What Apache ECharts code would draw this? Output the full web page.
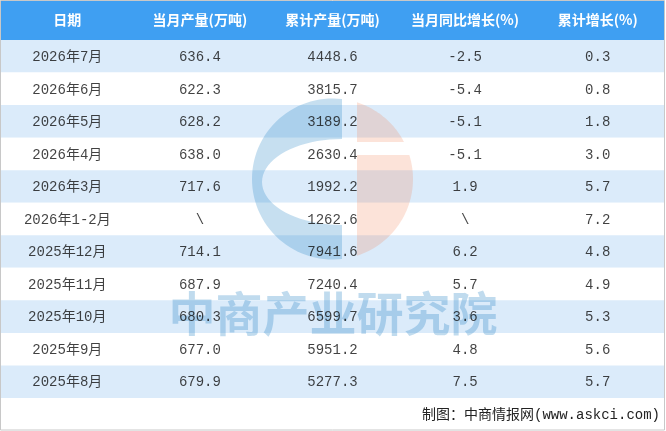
<!DOCTYPE html>
<html><head><meta charset="utf-8">
<script src="https://cdn.jsdelivr.net/npm/echarts@6/dist/echarts.min.js"></script>
<style>html,body{margin:0;padding:0;background:#fff}#c{width:666px;height:431px}</style>
</head><body><div id="c"></div>
<script>
const headers = ['日期','当月产量(万吨)','累计产量(万吨)','当月同比增长(%)','累计增长(%)'];
const months = ['2026年7月','2026年6月','2026年5月','2026年4月','2026年3月','2026年1-2月','2025年12月','2025年11月','2025年10月','2025年9月','2025年8月'];
const monthly = [636.4,622.3,628.2,638.0,717.6,null,714.1,687.9,680.3,677.0,679.9];
const cumulative = [4448.6,3815.7,3189.2,2630.4,1992.2,1262.6,7941.6,7240.4,6599.7,5951.2,5277.3];
const yoy = [-2.5,-5.4,-5.1,-5.1,1.9,null,6.2,5.7,3.6,4.8,7.5];
const cumGrowth = [0.3,0.8,1.8,3.0,5.7,7.2,4.8,4.9,5.3,5.6,5.7];

const fmt = v => (v === null ? '\\' : v.toFixed(1));
const cells = [];
months.forEach((m, i) => {
  cells.push([0, i, m]);
  cells.push([1, i, fmt(monthly[i])]);
  cells.push([2, i, fmt(cumulative[i])]);
  cells.push([3, i, fmt(yoy[i])]);
  cells.push([4, i, fmt(cumGrowth[i])]);
});

// watermark logo geometry (decoration)
const CX = 332.5, CY = 179, R = 80.5;
function arcPts(a0, a1, n, cx, cy, rx, ry) {
  const p = [];
  for (let k = 0; k <= n; k++) {
    const a = a0 + (a1 - a0) * k / n;
    p.push([cx + rx * Math.cos(a), cy + ry * Math.sin(a)]);
  }
  return p;
}
function angAtX(x, top) { const dy = Math.sqrt(R*R - (x-CX)*(x-CX)); return Math.atan2(top ? -dy : dy, x - CX); }
function angAtY(y) { const dx = Math.sqrt(R*R - (y-CY)*(y-CY)); return Math.atan2(y - CY, dx); }
const aTop = angAtX(342, true), aBot = angAtX(342, false);
const blueOuter = arcPts(aTop, aBot - 2*Math.PI, 60, CX, CY, R, R);
const blueInner = arcPts(Math.PI/2, 3*Math.PI/2, 40, 342, 182, 80, 43);
const blueShape = blueOuter.concat(blueInner);
const oTop = arcPts(angAtX(357, true), angAtY(142), 30, CX, CY, R, R).concat([[357,142]]);
const oBot = [[357,155]].concat(arcPts(angAtY(155), angAtX(357, false), 40, CX, CY, R, R));

const FONT = "'Liberation Mono','Noto Sans CJK SC',monospace";
const chart = echarts.init(document.getElementById('c'));
chart.setOption({
  animation: false,
  backgroundColor: '#fff',
  grid: {left: 1, right: 2, top: 40, bottom: 33},
  xAxis: {
    type: 'category', data: headers, position: 'top', z: 10,
    axisLine: {show: false}, axisTick: {show: false}, splitLine: {show: false},
    axisLabel: {color: '#fff', fontWeight: 'bold', fontSize: 14, margin: 13,
      fontFamily: "'Noto Sans CJK SC',sans-serif", interval: 0}
  },
  yAxis: {
    type: 'category', data: months, inverse: true,
    axisLine: {show: false}, axisTick: {show: false}, axisLabel: {show: false},
    splitLine: {show: false},
    splitArea: {show: true, areaStyle: {color: ['#DBEBFA', '#FFFFFF']}}
  },
  graphic: [
    {type: 'rect', z: 1, shape: {x: 1, y: 1, width: 663, height: 39}, style: {fill: '#3F9FF2'}},
    {type: 'polygon', z: 2, shape: {points: blueShape}, style: {fill: 'rgba(28,127,194,0.25)'}},
    {type: 'polygon', z: 2, shape: {points: oTop}, style: {fill: 'rgba(240,128,80,0.22)'}},
    {type: 'polygon', z: 2, shape: {points: oBot}, style: {fill: 'rgba(240,128,80,0.22)'}},
    {type: 'text', z: 2, x: 333, y: 313, style: {text: '中商产业研究院', fill: 'rgba(28,127,194,0.28)',
      font: "bold 47px 'Noto Sans CJK SC'", textAlign: 'center', textVerticalAlign: 'middle'}},
    {type: 'text', z: 3, x: 660, y: 415, style: {text: '制图：中商情报网(www.askci.com)', fill: '#222',
      font: "14px " + FONT, textAlign: 'right', textVerticalAlign: 'middle'}},
    {type: 'rect', z: 20, shape: {x: 0.5, y: 0.5, width: 664, height: 429.5}, style: {fill: 'none', stroke: '#C8C8C8', lineWidth: 1}}
  ],
  series: [{
    type: 'scatter', z: 5, data: cells, symbolSize: 1,
    itemStyle: {color: 'transparent'},
    label: {show: true, position: 'inside', offset: [0, 1], formatter: p => p.data[2], color: '#111', fontSize: 14, fontFamily: FONT}
  }]
});
</script></body></html>
